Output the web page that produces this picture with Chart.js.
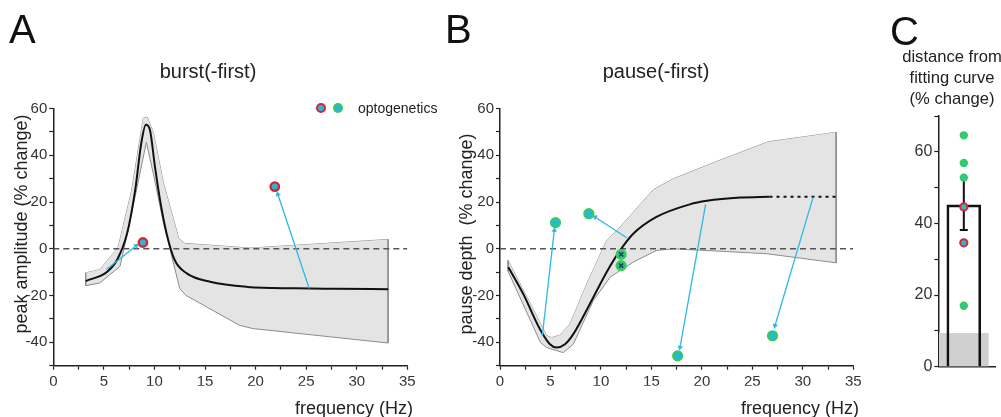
<!DOCTYPE html>
<html>
<head>
<meta charset="utf-8">
<script src="https://cdn.jsdelivr.net/npm/chart.js@4/dist/chart.umd.min.js"></script>
<style>
  body { margin: 0; background: #fff; overflow: hidden; }
  #page { position: relative; width: 1001px; height: 417px; overflow: hidden; font-family: "Liberation Sans", Arial, sans-serif; color: #222; }
  canvas { position: absolute; top: 0; }
  .txt { position: absolute; white-space: nowrap; }
  .letter { font-size: 40px; line-height: 40px; color: #111; }
  .title { font-size: 20px; line-height: 20px; transform: translateX(-50%); }
  .ytitle { font-size: 18px; line-height: 18px; transform: translate(-50%, -50%) rotate(-90deg); }
  .xtitle { font-size: 18px; line-height: 18px; transform: translateX(-100%); }
  .ctitle { font-size: 16.6px; line-height: 21px; text-align: center; transform: translateX(-50%); }
  .dot { position: absolute; width: 6px; height: 6px; border-radius: 50%; background: #2bb5dc; border: 2.4px solid; }
</style>
</head>
<body>
<div id="page">
  <canvas id="chartA" width="445" height="417" style="left:0px"></canvas>
  <canvas id="chartB" width="440" height="417" style="left:440px"></canvas>
  <canvas id="chartC" width="131" height="417" style="left:870px"></canvas>

  <div class="txt letter" style="left:9px; top:9px">A</div>
  <div class="txt letter" style="left:445px; top:9px">B</div>
  <div class="txt letter" style="left:890px; top:11px">C</div>

  <div class="txt title" style="left:208px; top:61px">burst(-first)</div>
  <div class="txt title" style="left:656px; top:61px">pause(-first)</div>
  <div class="txt ctitle" style="left:952px; top:46px">distance from<br>fitting curve<br>(% change)</div>

  <div class="txt ytitle" style="left:21px; top:224px">peak amplitude (% change)</div>
  <div class="txt ytitle" style="left:466px; top:234px">pause depth&nbsp;&nbsp;(% change)</div>
  <div class="txt xtitle" style="left:413px; top:399px">frequency (Hz)</div>
  <div class="txt xtitle" style="left:859px; top:399px">frequency (Hz)</div>

  <div class="dot" style="left:316px; top:103px; border-color:#d7262e"></div>
  <div class="dot" style="left:333px; top:103px; border-color:#33cc5c"></div>
  <div class="txt" style="left:358px; top:100px; font-size:14px; line-height:16px">optogenetics</div>
</div>

<script>
// ---- panel A: burst(-first) ----
const burstMeanX = [3.2, 5.3, 6.3, 7.3, 8.1, 8.7, 9.15, 9.55, 10.05, 10.55, 11.2, 12.0, 13.2, 15.5, 19.2, 24, 28, 33.1];
const burstMeanY = [-13.8, -9.9, -4.8, 6.6, 25.2, 45.2, 53, 50.9, 35.1, 20.9, 6.6, -4.8, -10.5, -14.1, -16.3, -16.9, -17.1, -17.3];
const burstUpX = [3.2, 4.6, 6.4, 7.75, 8.9, 9.3, 9.9, 10.9, 12.4, 13.0, 19.5, 33.1];
const burstUpY = [-10.3, -8.9, 0.5, 25, 55.9, 56.3, 49.5, 28, 4.5, 2.3, 0.3, 4];
const burstLoX = [3.2, 4.6, 6.6, 7.4, 9.2, 9.9, 10.9, 12.5, 13.1, 18.4, 19.7, 33.1];
const burstLoY = [-15.8, -14.6, -7.5, 8, 45.5, 32, 10.9, -17, -19.9, -32.7, -34.1, -40.3];
const burstOptoX = [8.86, 21.9];
const burstOptoY = [2.7, 26.6];
const burstArrows = [[5.25, -8.9, 8.2, 1.3], [25.3, -17, 22.2, 23.3]];

// ---- panel B: pause(-first) ----
const pauseMeanX = [0.83, 2.3, 3.96, 4.95, 5.6, 6.44, 7.26, 8.9, 10.56, 11.9, 13.2, 15.5, 18.8, 20.5, 23.8, 26.7];
const pauseMeanY = [-7.9, -19.3, -34.4, -40.8, -42.2, -40.8, -36.5, -23.6, -10, -0.7, 6.4, 13.6, 19, 20.5, 21.9, 22.3];
const pauseExtX = [26.7, 33.3];
const pauseExtY = [22.3, 22.3];
const pauseUpX = [0.8, 4.63, 5.12, 5.94, 6.93, 8.59, 10.57, 11.9, 15.2, 17.2, 21.8, 26.6, 33.3];
const pauseUpY = [-5, -37.2, -38, -36.9, -32.2, -15, 3.6, 9.3, 25.3, 30, 37.9, 45.8, 49.8];
const pauseLoX = [0.8, 4.0, 4.63, 6.27, 7.26, 9.24, 10.9, 11.9, 13.2, 15.5, 17.2, 26.4, 33.3];
const pauseLoY = [-9.6, -40, -42.3, -44.4, -40.8, -22.2, -12.2, -9.3, -5.7, -0.7, 0, -2.1, -6];
const pauseOptoX = [5.5, 8.8, 17.6, 27.0];
const pauseOptoY = [11.2, 15, -45.8, -37.2];
const pauseCrossX = [12.0, 12.0];
const pauseCrossY = [-2.4, -7.2];
const pauseArrows = [[4.19, -37.2, 5.38, 7.9], [12.55, 4.7, 9.41, 13.6], [20.37, 19, 17.83, -42.2], [31.03, 22.2, 27.24, -32.9]];

// ---- panel C: distance from fitting curve ----
const distMean = 45.2;
const distSem = 7;
const distBaseline = 9.3;
const distValues = [64.6, 56.9, 52.8, 17.0];   // green (pause)
const distValuesRed = [44.6, 34.6];            // red (burst)

const CYAN = '#2bb5dc';
const GREEN = '#33cc5c';
const RED = '#d7262e';
const ARROW = '#2fb8e4';
const AXIS = '#222';
const FONT = "'Liberation Sans', Arial, sans-serif";

const pts = (xs, ys) => xs.map((x, i) => ({ x: x, y: ys[i] }));

// arrowhead turned along the arrow, in pixels
const arrowAngle = (ctx) => {
  const c = ctx.chart;
  const d = ctx.dataset.data;
  const dx = c.scales.x.getPixelForValue(d[1].x) - c.scales.x.getPixelForValue(d[0].x);
  const dy = c.scales.y.getPixelForValue(d[1].y) - c.scales.y.getPixelForValue(d[0].y);
  return Math.atan2(dx, -dy) * 180 / Math.PI;
};

const arrowSets = (arrows) => arrows.map(a => ({
  data: [{ x: a[0], y: a[1] }, { x: a[2], y: a[3] }],
  borderColor: ARROW, borderWidth: 1.3,
  pointRadius: [0, 3.2], pointStyle: 'triangle',
  pointBackgroundColor: ARROW, pointBorderWidth: 0,
  pointRotation: arrowAngle, order: 1
}));

const bandSets = (upX, upY, loX, loY) => [
  { data: pts(upX, upY), borderColor: '#8c8c8c', borderWidth: 1, pointRadius: 0, fill: false, order: 6 },
  { data: pts(loX, loY), borderColor: '#8c8c8c', borderWidth: 1, pointRadius: 0, fill: '-1', backgroundColor: '#e4e4e4', order: 5 },
  { data: [{ x: upX[0], y: upY[0] }, { x: loX[0], y: loY[0] }], borderColor: '#8c8c8c', borderWidth: 1, pointRadius: 0, order: 4 },
  { data: [{ x: upX[upX.length - 1], y: upY[upY.length - 1] }, { x: loX[loX.length - 1], y: loY[loY.length - 1] }], borderColor: '#8c8c8c', borderWidth: 1, pointRadius: 0, order: 4 }
];

const zeroLine = {
  data: [{ x: 0, y: 0 }, { x: 35, y: 0 }],
  borderColor: '#555', borderWidth: 1.6, borderDash: [6, 4], pointRadius: 0, order: 3
};

const freqOptions = (yWidth, padRight) => ({
  responsive: false,
  animation: false,
  layout: { padding: { left: 0, right: padRight, top: 108.5, bottom: 31.3 } },
  plugins: { legend: { display: false }, tooltip: { enabled: false } },
  scales: {
    x: {
      type: 'linear', min: 0, max: 35,
      afterFit: (s) => { s.height = 20; },
      border: { color: AXIS, width: 1.5 },
      grid: { drawOnChartArea: false, tickLength: 4, tickColor: AXIS, tickWidth: 1.2 },
      ticks: { stepSize: 2.5, autoSkip: false, maxRotation: 0, padding: 3, color: '#333',
        font: { family: FONT, size: 15 }, callback: (v) => (v % 5 === 0 ? v : '') }
    },
    y: {
      min: -50, max: 60,
      afterFit: (s) => { s.width = yWidth; },
      border: { color: AXIS, width: 1.5 },
      grid: { drawOnChartArea: false, tickLength: 4, tickColor: AXIS, tickWidth: 1.2 },
      ticks: { stepSize: 10, autoSkip: false, padding: 2, color: '#333',
        font: { family: FONT, size: 15 }, callback: (v) => (v % 20 === 0 ? v : '') }
    }
  }
});

new Chart(document.getElementById('chartA'), {
  type: 'line',
  data: {
    datasets: [
      { data: pts(burstOptoX, burstOptoY), showLine: false, pointRadius: 4.2, pointBorderWidth: 2.4,
        pointBackgroundColor: CYAN, pointBorderColor: RED, order: 0 },
      ...arrowSets(burstArrows),
      { data: pts(burstMeanX, burstMeanY), borderColor: '#111', borderWidth: 2, pointRadius: 0,
        cubicInterpolationMode: 'monotone', order: 2 },
      zeroLine,
      ...bandSets(burstUpX, burstUpY, burstLoX, burstLoY)
    ]
  },
  options: freqOptions(53.3, 37.7)
});

new Chart(document.getElementById('chartB'), {
  type: 'line',
  data: {
    datasets: [
      { data: pts(pauseCrossX, pauseCrossY), showLine: false, pointStyle: 'crossRot', pointRadius: 3,
        pointBorderColor: '#1d3a66', pointBorderWidth: 1.5, order: -1 },
      { data: pts(pauseOptoX, pauseOptoY), showLine: false, pointRadius: 4.5, pointBorderWidth: 2.2,
        pointBackgroundColor: CYAN, pointBorderColor: GREEN, order: 0 },
      { data: pts(pauseCrossX, pauseCrossY), showLine: false, pointRadius: 4.5, pointBorderWidth: 2.2,
        pointBackgroundColor: '#3cc276', pointBorderColor: GREEN, order: 0 },
      ...arrowSets(pauseArrows),
      { data: pts(pauseMeanX, pauseMeanY), borderColor: '#111', borderWidth: 2, pointRadius: 0,
        cubicInterpolationMode: 'monotone', order: 2 },
      { data: pts(pauseExtX, pauseExtY), borderColor: '#111', borderWidth: 2, borderDash: [3, 4],
        pointRadius: 0, order: 2 },
      zeroLine,
      ...bandSets(pauseUpX, pauseUpY, pauseLoX, pauseLoY)
    ]
  },
  options: freqOptions(60, 26.7)
});

new Chart(document.getElementById('chartC'), {
  type: 'bar',
  data: {
    datasets: [
      { type: 'line', data: distValues.map(v => ({ x: 1, y: v })), showLine: false, pointRadius: 3.2,
        pointBorderWidth: 2, pointBackgroundColor: '#2fc79a', pointBorderColor: GREEN, order: 0 },
      { type: 'line', data: distValuesRed.map(v => ({ x: 1, y: v })), showLine: false, pointRadius: 3.6,
        pointBorderWidth: 2, pointBackgroundColor: CYAN, pointBorderColor: RED, order: 0 },
      { type: 'line', data: [{ x: 1, y: distMean - distSem }, { x: 1, y: distMean + distSem }],
        borderColor: '#111', borderWidth: 2, pointStyle: 'line', pointRadius: [4, 0],
        pointBorderColor: '#111', pointBorderWidth: 2, order: 1 },
      { data: [{ x: 1, y: distMean }], backgroundColor: 'rgba(255,255,255,0)', borderColor: '#111',
        borderWidth: 2, barThickness: 34, grouped: false, order: 2 },
      { data: [{ x: 1, y: distBaseline }], backgroundColor: '#d0d0d0', borderWidth: 0,
        barThickness: 49, grouped: false, order: 3 }
    ]
  },
  options: {
    responsive: false,
    animation: false,
    layout: { padding: { left: 0, right: 0, top: 116, bottom: 40.3 } },
    plugins: { legend: { display: false }, tooltip: { enabled: false } },
    scales: {
      x: {
        type: 'linear', min: 0, max: 2.5,
        afterFit: (s) => { s.height = 10; },
        border: { color: AXIS, width: 1.5 },
        grid: { display: false },
        ticks: { display: false }
      },
      y: {
        min: 0, max: 70,
        afterFit: (s) => { s.width = 68.3; },
        border: { color: AXIS, width: 1.5 },
        grid: { drawOnChartArea: false, tickLength: 4, tickColor: AXIS, tickWidth: 1.2 },
        ticks: { stepSize: 10, autoSkip: false, padding: 2, color: '#333',
          font: { family: FONT, size: 16 }, callback: (v) => (v % 20 === 0 ? v : '') }
      }
    }
  }
});
</script>
</body>
</html>
